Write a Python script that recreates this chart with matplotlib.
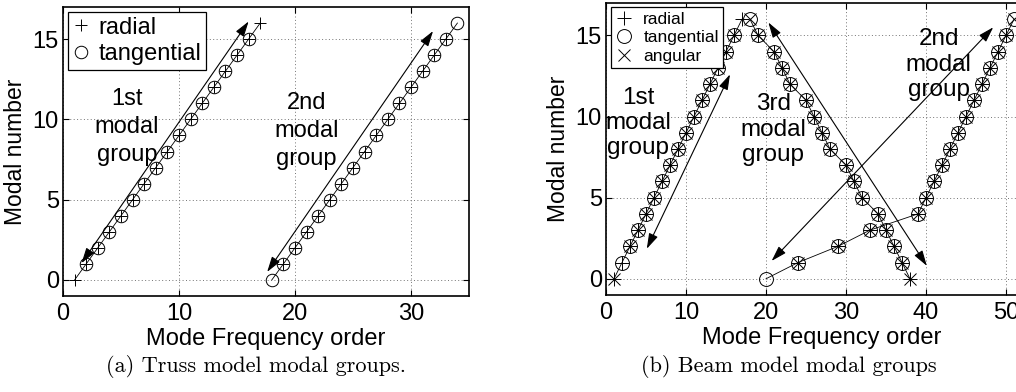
import matplotlib
matplotlib.use("Agg")
import matplotlib.pyplot as plt

plt.rcParams.update({
    "font.family": ["Liberation Sans", "DejaVu Sans"],
    "font.size": 17,
    "axes.linewidth": 1.2,
})

# --- truss model: mode order vs modal number -------------------------------
truss_g1_order = [1, 2, 3, 4, 5, 6, 7, 8, 9, 10, 11, 12, 13, 14, 15, 16, 17]
truss_g1_n     = [0, 1, 2, 3, 4, 5, 6, 7, 8, 9, 10, 11, 12, 13, 14, 15, 16]
truss_g2_order = [18, 19, 20, 21, 22, 23, 24, 25, 26, 27, 28, 29, 30, 31, 32, 33, 34]
truss_g2_n     = [0, 1, 2, 3, 4, 5, 6, 7, 8, 9, 10, 11, 12, 13, 14, 15, 16]

truss_radial_order = [1, 2, 3, 4, 5, 6, 7, 8, 9, 10, 11, 12, 13, 14, 15, 16, 17,
                      19, 20, 21, 22, 23, 24, 25, 26, 27, 28, 29, 30, 31, 32, 33]
truss_radial_n     = [0, 1, 2, 3, 4, 5, 6, 7, 8, 9, 10, 11, 12, 13, 14, 15, 16,
                      1, 2, 3, 4, 5, 6, 7, 8, 9, 10, 11, 12, 13, 14, 15]
truss_tang_order = [2, 3, 4, 5, 6, 7, 8, 9, 10, 11, 12, 13, 14, 15, 16,
                    18, 19, 20, 21, 22, 23, 24, 25, 26, 27, 28, 29, 30, 31, 32, 33, 34]
truss_tang_n     = [1, 2, 3, 4, 5, 6, 7, 8, 9, 10, 11, 12, 13, 14, 15,
                    0, 1, 2, 3, 4, 5, 6, 7, 8, 9, 10, 11, 12, 13, 14, 15, 16]

# --- beam model ------------------------------------------------------------
beam_g1_order = [1, 2, 3, 4, 5, 6, 7, 8, 9, 10, 11, 12, 13, 14, 15, 16, 17]
beam_g1_n     = [0, 1, 2, 3, 4, 5, 6, 7, 8, 9, 10, 11, 12, 13, 14, 15, 16]
beam_g3_order = [18, 19, 21, 22, 23, 25, 26, 27, 28, 30, 31, 32, 34, 35, 36, 37, 38]
beam_g3_n     = [16, 15, 14, 13, 12, 11, 10, 9, 8, 7, 6, 5, 4, 3, 2, 1, 0]
beam_g2_order = [20, 24, 29, 33, 39, 40, 41, 42, 43, 44, 45, 46, 47, 48, 49, 50, 51]
beam_g2_n     = [0, 1, 2, 3, 4, 5, 6, 7, 8, 9, 10, 11, 12, 13, 14, 15, 16]

beam_radial_order = beam_g1_order + beam_g3_order[1:] + beam_g2_order[1:-1]
beam_radial_n     = beam_g1_n + beam_g3_n[1:] + beam_g2_n[1:-1]
beam_tang_order = beam_g1_order[1:-1] + beam_g3_order[:-1] + beam_g2_order
beam_tang_n     = beam_g1_n[1:-1] + beam_g3_n[:-1] + beam_g2_n
beam_ang_order = beam_g1_order[:1] + beam_g1_order[2:-1] + beam_g3_order + beam_g2_order[1:]
beam_ang_n     = beam_g1_n[:1] + beam_g1_n[2:-1] + beam_g3_n + beam_g2_n[1:]

MS = 9
ARW = dict(arrowstyle="<|-|>,head_length=0.55,head_width=0.17", lw=0.8,
           color="k", shrinkA=0, shrinkB=0)


def style_axes(ax, xlim, xticks, ylab_x):
    ax.set_xlim(*xlim)
    ax.set_ylim(-1, 17)
    ax.set_xticks(xticks)
    ax.set_yticks([0, 5, 10, 15])
    ax.tick_params(direction="in", top=True, right=True, length=4, width=0.8,
                   labelsize=17)
    ax.tick_params(axis="x", pad=5)
    ax.tick_params(axis="y", pad=3)
    ax.grid(True, linestyle=(0, (1, 2.5)), lw=0.7, color="0.45")
    ax.set_axisbelow(True)
    ax.set_xlabel("Mode Frequency order", fontsize=17)
    ax.xaxis.set_label_coords(0.5, -0.11)
    ax.set_ylabel("Modal number", fontsize=16.5)
    ax.yaxis.set_label_coords(ylab_x, 0.5)


fig = plt.figure(figsize=(10.16, 3.92), dpi=100)

# (a) truss
ax1 = fig.add_axes([63 / 1016, 1 - 296 / 392, 406 / 1016, 289 / 392])
style_axes(ax1, (0, 35), [0, 10, 20, 30], -0.088)
ax1.plot(truss_g1_order, truss_g1_n, "k-", lw=0.6)
ax1.plot(truss_g2_order, truss_g2_n, "k-", lw=0.6)
ax1.plot(truss_radial_order, truss_radial_n, "k+", ms=MS, mew=0.7, ls="none",
         label="radial")
ax1.plot(truss_tang_order, truss_tang_n, "ko", ms=MS, mew=0.7, mfc="none",
         ls="none", label="tangential")
ax1.annotate("", xy=(1.6, 1.05), xytext=(16.0, 16.1), arrowprops=ARW)
ax1.annotate("", xy=(17.6, 0.5), xytext=(31.9, 15.5), arrowprops=ARW)
ax1.text(5.5, 9.5, "1st\nmodal\ngroup", ha="center", va="center",
         fontsize=17, linespacing=1.35)
ax1.text(21.0, 9.25, "2nd\nmodal\ngroup", ha="center", va="center",
         fontsize=17, linespacing=1.35)
leg1 = ax1.legend(loc="upper left", bbox_to_anchor=(0.012, 0.983),
                  borderaxespad=0, fontsize=17, handlelength=0.7,
                  handletextpad=0.4, borderpad=0.2, labelspacing=0.2,
                  fancybox=False, edgecolor="k", framealpha=1)
leg1.get_frame().set_linewidth(0.9)

# (b) beam
ax2 = fig.add_axes([606 / 1016, 1 - 295 / 392, 432 / 1016, 292 / 392])
style_axes(ax2, (0, 54), [0, 10, 20, 30, 40, 50], -0.083)
for xs, ys in [(beam_g1_order, beam_g1_n), (beam_g3_order, beam_g3_n),
               (beam_g2_order, beam_g2_n)]:
    ax2.plot(xs, ys, "k-", lw=0.6)
ax2.plot(beam_radial_order, beam_radial_n, "k+", ms=MS + 1, mew=0.7, ls="none",
         label="radial")
ax2.plot(beam_tang_order, beam_tang_n, "ko", ms=MS + 1, mew=0.7, mfc="none",
         ls="none", label="tangential")
ax2.plot(beam_ang_order, beam_ang_n, "kx", ms=MS - 1, mew=0.7, ls="none",
         label="angular")
ax2.annotate("", xy=(5.1, 1.85), xytext=(15.5, 12.6), arrowprops=ARW)
ax2.annotate("", xy=(20.3, 15.8), xytext=(40.1, 0.8), arrowprops=ARW)
ax2.annotate("", xy=(20.7, 1.1), xytext=(48.4, 15.5), arrowprops=ARW)
ax2.text(4.0, 9.6, "1st\nmodal\ngroup", ha="center", va="center",
         fontsize=17.5, linespacing=1.2)
ax2.text(20.9, 9.2, "3rd\nmodal\ngroup", ha="center", va="center",
         fontsize=17.5, linespacing=1.2)
ax2.text(41.6, 13.2, "2nd\nmodal\ngroup", ha="center", va="center",
         fontsize=17.5, linespacing=1.2)
leg2 = ax2.legend(loc="upper left", bbox_to_anchor=(0.012, 0.986),
                  borderaxespad=0, fontsize=12.5, handlelength=1.0,
                  handletextpad=0.6, borderpad=0.25, labelspacing=0.2,
                  fancybox=False, edgecolor="k", framealpha=1)
leg2.get_frame().set_linewidth(0.9)

# sub-captions
fig.text(256 / 1016, 1 - 367 / 392, "(a) Truss model modal groups.",
         ha="center", va="center", family="cmr10", fontsize=16)
fig.text(789 / 1016, 1 - 367 / 392, "(b) Beam model modal groups",
         ha="center", va="center", family="cmr10", fontsize=16)

fig.savefig("out.png", dpi=100)
